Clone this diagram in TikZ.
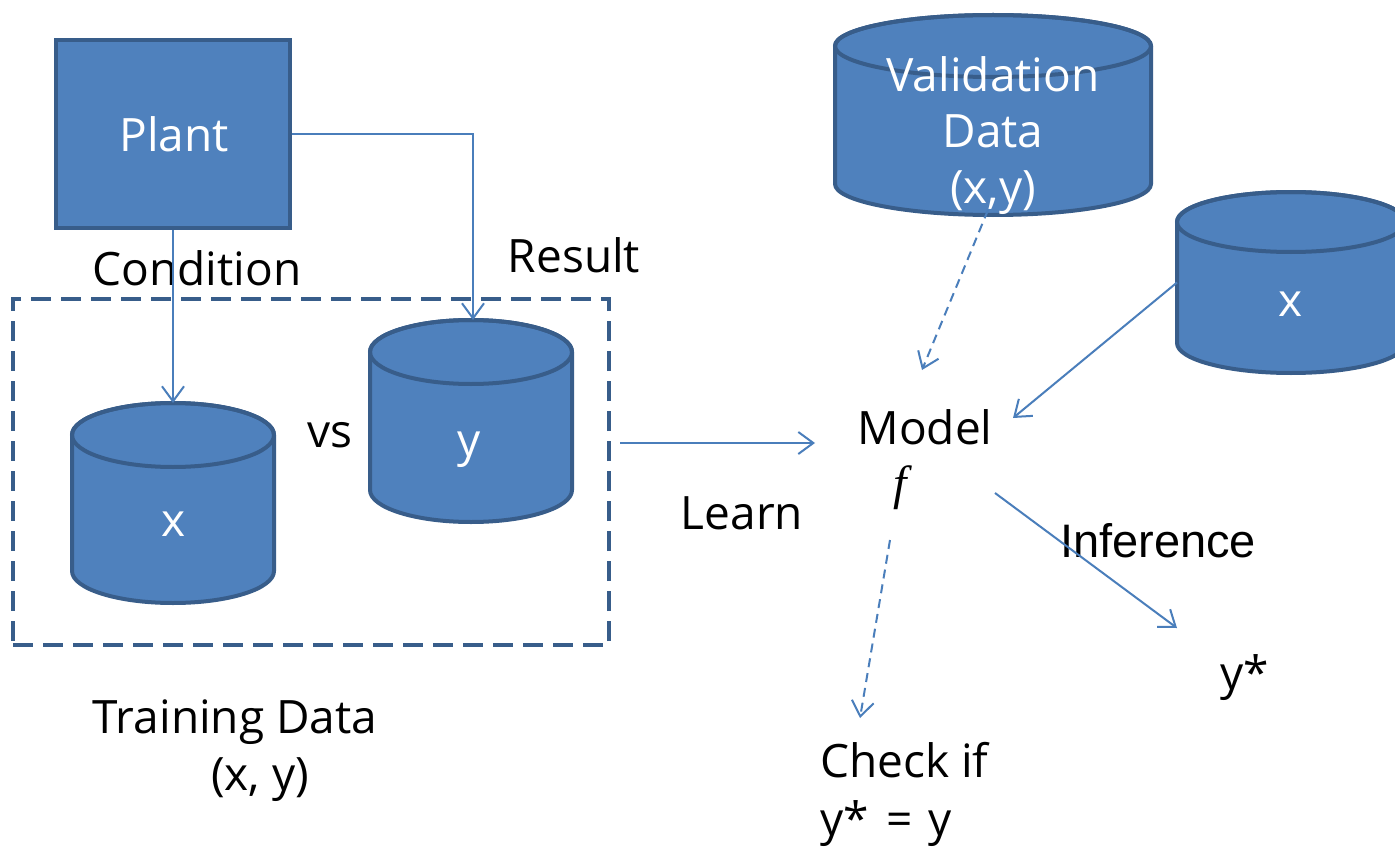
\documentclass[tikz,border=0pt]{standalone}
\usepackage{fontspec}
\setmainfont{Open Sans}
\newfontfamily\arialfont{Liberation Sans}
\newfontfamily\symfont{Liberation Serif}
\usetikzlibrary{arrows.meta}
\definecolor{dbfill}{HTML}{4F81BD}
\definecolor{dbline}{HTML}{385D8A}
\definecolor{conn}{HTML}{4A7EBB}

\tikzset{
  x=1pt, y=-1pt,
  txt/.style={inner sep=0pt, anchor=base, font=\fontsize{46}{55}\selectfont},
  wtxt/.style={txt, text=white},
  shapeline/.style={draw=dbline, line width=4pt, fill=dbfill},
  cylbox/.style={inner sep=0pt, outer sep=0pt},
  conn/.style={draw=conn, line width=2pt, -{Straight Barb[length=15pt,width=22pt,line width=2pt]}},
  dconn/.style={conn, dash pattern=on 9pt off 6pt},
  groupbox/.style={draw=dbline, line width=4.5pt, dash pattern=on 20pt off 10pt, inner sep=0pt}
}

% database cylinder: name, centre x, top-ellipse y, bottom-ellipse y, x radius, y radius
\newcommand{\dbcylinder}[6]{%
  \path[shapeline, line join=round]
    (#2-#5,#3) -- (#2-#5,#4)
    arc[start angle=180, end angle=360, x radius=#5pt, y radius=#6pt]
    -- (#2+#5,#3)
    arc[start angle=0, end angle=180, x radius=#5pt, y radius=#6pt] -- cycle;
  \draw[draw=dbline, line width=4pt] (#2,#3) ellipse [x radius=#5pt, y radius=#6pt];
  \node[cylbox, minimum width={2*#5pt}, minimum height={(#4-#3+2*#6)*1pt}]
    (#1) at (#2,{(#3+#4)/2}) {};
}

\begin{document}
\begin{tikzpicture}
\clip (0,0) rectangle (1395,848);
\fill[white] (0,0) rectangle (1395,848);

% plant
\node[shapeline, minimum width=234pt, minimum height=188pt, inner sep=0pt] (plant) at (173,134) {};
\node[wtxt] (plantlbl) at (174,152) {Plant};

% training data group
\node[groupbox, minimum width=596pt, minimum height=346pt] (train) at (311,472) {};

\dbcylinder{xcyl}{173}{435}{571}{101}{32}
\node[wtxt] (xlbl) at (174,536) {x};
\dbcylinder{ycyl}{471}{352}{490}{101}{32}
\node[wtxt] (ylbl) at (469,456) {y};
\node[txt] (vs) at (330,447) {vs};

% validation data and new inputs
\dbcylinder{val}{993}{46}{184}{158}{31}
\node[wtxt] (val1) at (993,92) {Validation};
\node[wtxt] (val2) at (993,147) {Data};
\node[wtxt] (val3) at (993,203) {(x,y)};

\dbcylinder{xnew}{1291}{222}{343}{114}{30}
\node[wtxt] (xnewlbl) at (1291,316) {x};

% labels
\node[txt] (condition) at (197,285) {Condition};
\node[txt] (result) at (574,272) {Result};
\node[txt] (training1) at (235,733) {Training Data};
\node[txt] (training2) at (260,790) {(x, y)};
\node[txt] (learn) at (742,529) {Learn};
\node[txt] (model) at (925,444) {Model};
\node[inner sep=0pt, anchor=base, font=\symfont\itshape\fontsize{48}{55}\selectfont] (fsym) at (900,499) {f};
\node[inner sep=0pt, anchor=base, font=\arialfont\fontsize{47}{55}\selectfont] (inference) at (1158,557) {Inference};
\node[txt] (ystar) at (1245,689) {y*};
\node[txt, anchor=base west] (check1) at (820,777) {Check if};
\node[txt, anchor=base west] (check2) at (820,835) {y*\hspace{18pt}=\hspace{15pt}y};

% connector end points
\coordinate (learnfrom) at (620,443);
\coordinate (learnto) at (815,443);
\coordinate (valto) at (922,370);
\coordinate (xnewto) at (1013,418);
\coordinate (inffrom) at (995,493);
\coordinate (infto) at (1177,628);
\coordinate (chkfrom) at (890,540);
\coordinate (chkto) at (860,718);
\coordinate (resultcorner) at (473,134);

% connectors
\draw[conn] (plant.south) -- (xcyl.north);
\draw[conn] (plant.east) -- (resultcorner) -- (resultcorner |- ycyl.north);
\draw[conn] (learnfrom) -- (learnto);
\draw[dconn] ([xshift=-5pt,yshift=5pt]val.south) -- (valto);
\draw[conn] (xnew.west) -- (xnewto);
\draw[conn] (inffrom) -- (infto);
\draw[dconn] (chkfrom) -- (chkto);
\end{tikzpicture}
\end{document}
